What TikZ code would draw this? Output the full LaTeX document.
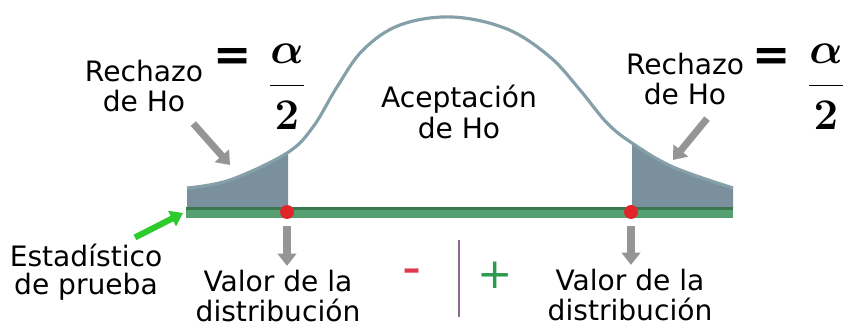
\documentclass[tikz,border=0pt]{standalone}
\usepackage{fontspec}
\setmainfont{DejaVu Sans}
\usetikzlibrary{arrows.meta}
\definecolor{tailGray}{HTML}{7A909D}
\definecolor{curveGray}{HTML}{86A0AA}
\definecolor{barGreen}{HTML}{55A070}
\definecolor{barDark}{HTML}{3A7650}
\definecolor{dotRed}{HTML}{E0262A}
\definecolor{arrowGray}{HTML}{959595}
\definecolor{brightGreen}{HTML}{2DCB2D}
\definecolor{minusRed}{HTML}{E0394F}
\definecolor{plusGreen}{HTML}{2E9A50}
\definecolor{lineViolet}{HTML}{8A6A8E}
\tikzset{
  lbl/.style={align=center,inner sep=0pt,font=\fontsize{16}{17.5}\selectfont},
  eqsign/.style={inner sep=0pt,font=\fontsize{26}{26}\selectfont\bfseries},
  halfalpha/.style={inner sep=0pt,font=\fontsize{25}{30}\selectfont\boldmath},
  grayarrow/.style={draw=arrowGray,line width=4pt,-{Triangle[length=7pt,width=10.5pt]}},
  reddot/.style={circle,fill=dotRed,inner sep=0pt,minimum size=0.28cm}
}

\begin{document}
\begin{tikzpicture}[x=0.02cm,y=-0.02cm]
  \useasboundingbox (0,0) rectangle (844,327);
  \begin{scope}
    \clip (186,0) rectangle (288,208) (632,0) rectangle (733,208);
    \fill[tailGray] plot[smooth,tension=0.6] coordinates {(187,188) (230,180) (287,153) (313,127) (337,87) (363,50) (400,25) (452,17) (507,29) (550,57) (580,90) (607,123) (632,143) (673,167) (733,188)} -- (733,208) -- (187,208) -- cycle;
  \end{scope}
  \draw[curveGray,line width=1.8pt] plot[smooth,tension=0.6] coordinates {(187,188) (230,180) (287,153) (313,127) (337,87) (363,50) (400,25) (452,17) (507,29) (550,57) (580,90) (607,123) (632,143) (673,167) (733,188)};
  \fill[barGreen] (186,207) rectangle (733,218);
  \fill[barDark] (186,207) rectangle (733,210.5);

  \node[reddot] (puntoL) at (287,212) {};
  \node[reddot] (puntoR) at (631,212) {};

  \node[lbl] (rechazoL) at (144,86) {Rechazo\\de Ho};
  \node[eqsign] (igualL) at (233,59) {=};
  \node[halfalpha] (fracL) at (287,87) {$\displaystyle\frac{\alpha}{2}$};
  \node[lbl] (rechazoR) at (685,79) {Rechazo\\de Ho};
  \node[eqsign] (igualR) at (772,59) {=};
  \node[halfalpha] (fracR) at (826,87) {$\displaystyle\frac{\alpha}{2}$};
  \node[lbl] (acept) at (459,112) {Aceptación\\de Ho};
  \node[lbl,font=\fontsize{16}{16}\selectfont] (estad) at (86,272) {Estadístico\\de prueba};
  \node[lbl] (valorL) at (278,296) {Valor de la\\distribución};
  \node[lbl] (valorR) at (630,295) {Valor de la\\distribución};
  \node[inner sep=0pt,font=\fontsize{30}{30}\selectfont,text=minusRed] (menos) at (412,277) {-};
  \node[inner sep=0pt,font=\fontsize{24}{24}\selectfont,text=plusGreen] (mas) at (495,275) {+};
  \draw[lineViolet,line width=1.3pt] (459,240) -- (459,317);

  \coordinate (colaL) at (230,165);
  \coordinate (colaR) at (673,160);
  \coordinate (inicio) at (183,213);
  \draw[grayarrow] ([shift={(-10,11)}]rechazoL.south east) -- (colaL);
  \draw[grayarrow] ([shift={(22,13)}]rechazoR.south) -- (colaR);
  \draw[grayarrow,shorten <=4pt,shorten >=2pt] (puntoL) -- (puntoL |- valorL.north);
  \draw[grayarrow,shorten <=4pt,shorten >=2pt] (puntoR) -- (puntoR |- valorR.north);
  \draw[brightGreen,line width=3.5pt,-{Triangle[length=7pt,width=9.5pt]}] ([shift={(49,-6)}]estad.north) -- (inicio);
\end{tikzpicture}
\end{document}
